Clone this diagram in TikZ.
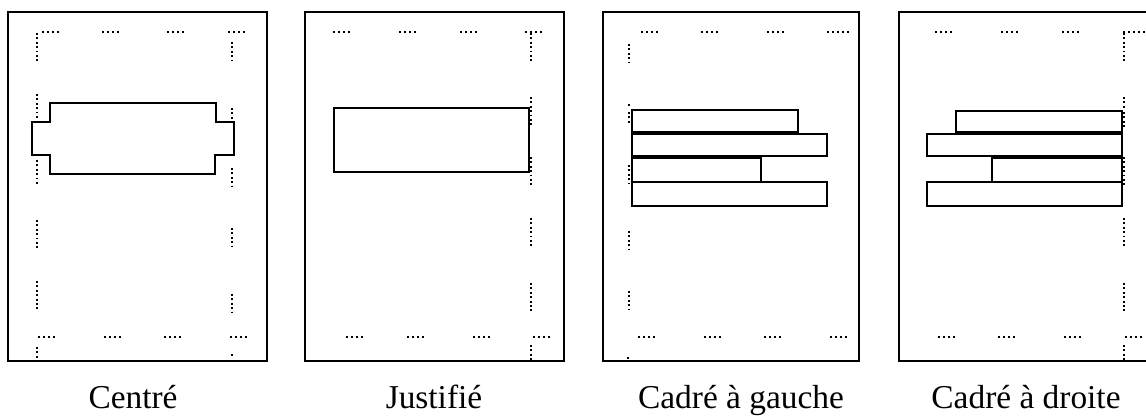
\documentclass[tikz,border=0pt]{standalone}
\usepackage{fontspec}
\setmainfont{Liberation Serif}
\begin{document}
\begin{tikzpicture}[x=0.02cm,y=-0.02cm,
  frame/.style={line width=1.3pt},
  block/.style={line width=1.25pt,fill=white},
  hdots/.style={line width=1.2pt,dash pattern=on 1.2pt off 1.63pt},
  vdots/.style={line width=1.2pt,dash pattern=on 1.1pt off 1.4pt},
  caption/.style={font=\fontsize{19}{22}\selectfont,anchor=base}]
\clip (0,0) rectangle (1146,418);
% Centré
\draw[frame] (8,12) rectangle (267,361);
\draw[block] (50,103)--(216,103)--(216,122)--(234,122)--(234,155)--(215,155)--(215,174)
  --(50,174)--(50,155)--(32,155)--(32,122)--(50,122)--cycle;
\foreach \x in {42,102,167,228} \draw[hdots] (\x,32) -- ++(17,0);
\foreach \x in {38,104,164,230} \draw[hdots] (\x,337) -- ++(17,0);
\draw[vdots] (37,33) -- ++(0,28.5);
\draw[vdots] (37,94) -- ++(0,24);
\draw[vdots] (37,160) -- ++(0,24);
\draw[vdots] (37,220) -- ++(0,28.5);
\draw[vdots] (37,281) -- ++(0,28.5);
\draw[vdots] (37,347) -- ++(0,15);
\draw[vdots] (232,42) -- ++(0,19.5);
\draw[vdots] (232,108) -- ++(0,10.7);
\draw[vdots] (232,168) -- ++(0,19.5);
\draw[vdots] (232,228) -- ++(0,19.5);
\draw[vdots] (232,294) -- ++(0,19.5);
\draw[vdots] (232,354) -- ++(0,2);
\node[caption] (centre) at (133,409) {Centré};
% Justifié
\draw[frame] (305,12) rectangle (564,361);
\draw[block] (334,108) rectangle (529,172);
\foreach \x in {333,399,460,525} \draw[hdots] (\x,32) -- ++(17,0);
\foreach \x in {346,407,473,533} \draw[hdots] (\x,337) -- ++(17,0);
\foreach \y in {33,97,157,218,283} \draw[vdots] (531,\y) -- ++(0,28.5);
\draw[vdots] (531,345) -- ++(0,15);
\node[caption] (justifie) at (434,409) {Justifié};
% Cadré à gauche
\draw[frame] (603,12) rectangle (859,361);
\draw[block] (632,110) rectangle (798,132);
\draw[block] (632,134) rectangle (827,156);
\draw[block] (632,158) rectangle (761,182);
\draw[block] (632,182) rectangle (827,206);
\foreach \x in {641,701,767} \draw[hdots] (\x,32) -- ++(17,0);
\draw[hdots] (827,32) -- ++(22,0);
\foreach \x in {638,704,764,830} \draw[hdots] (\x,337) -- ++(17,0);
\draw[vdots] (629,44) -- ++(0,19.5);
\draw[vdots] (629,104) -- ++(0,2);
\draw[vdots] (629,112) -- ++(0,10.7);
\foreach \y in {165,231,291} \draw[vdots] (629,\y) -- ++(0,19.5);
\draw[vdots] (628,357) -- ++(0,2);
\node[caption] (gauche) at (741,409) {Cadré à gauche};
% Cadré à droite
\draw[frame] (899,12) rectangle (1158,361);
\draw[block] (956,111) rectangle (1122,132);
\draw[block] (927,134) rectangle (1122,156);
\draw[block] (992,158) rectangle (1122,182);
\draw[block] (927,182) rectangle (1122,206);
\foreach \x in {935,1001,1062} \draw[hdots] (\x,32) -- ++(17,0);
\draw[hdots] (1123,32) -- ++(22,0);
\foreach \x in {938,998,1064,1125} \draw[hdots] (\x,337) -- ++(17,0);
\draw[vdots] (1124,33) -- ++(0,28.5);
\draw[vdots] (1124,97) -- ++(0,10.7);
\draw[vdots] (1124,112) -- ++(0,15);
\foreach \y in {157,218,283} \draw[vdots] (1124,\y) -- ++(0,28.5);
\draw[vdots] (1124,345) -- ++(0,15);
\node[caption] (droite) at (1026,409) {Cadré à droite};
\end{tikzpicture}
\end{document}
